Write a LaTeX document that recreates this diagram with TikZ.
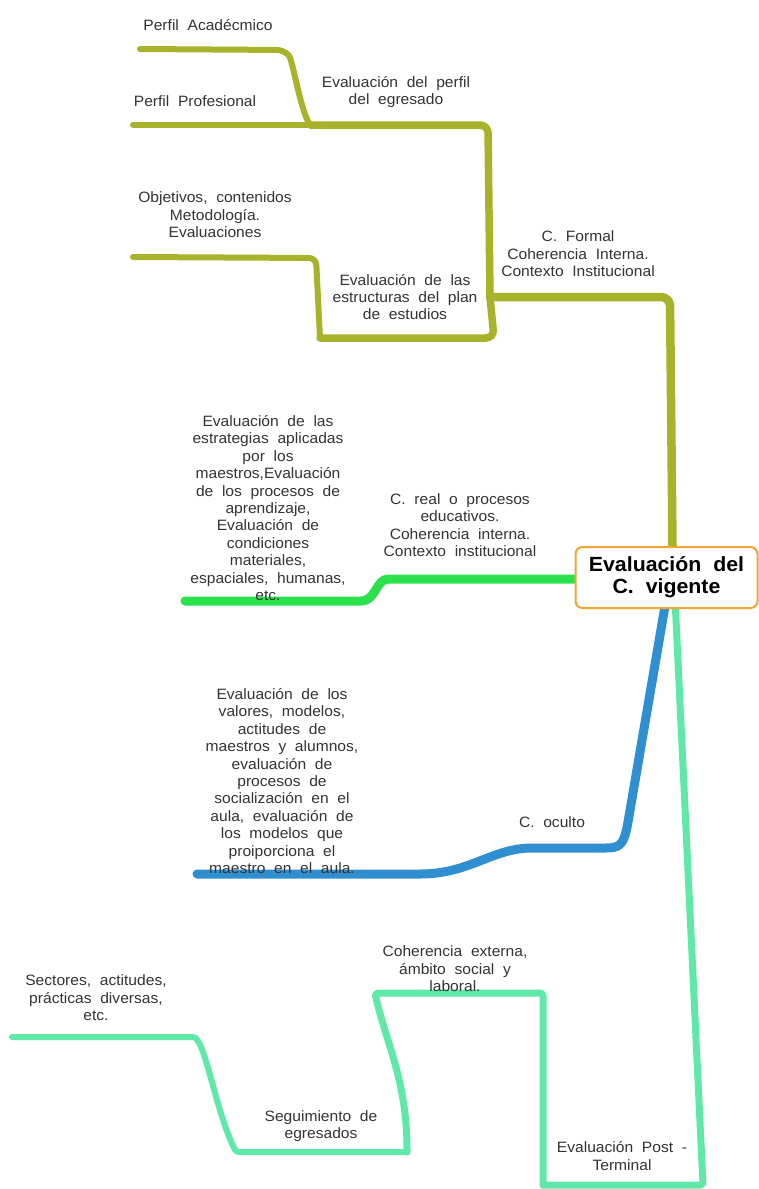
\documentclass[tikz,border=0pt]{standalone}
\usepackage{fontspec}
\setmainfont{Liberation Sans}[FakeStretch=1.04, WordSpace=2.0]
\usetikzlibrary{backgrounds}
\definecolor{cOlive}{HTML}{A8B22A}
\definecolor{cGreen}{HTML}{2CE24C}
\definecolor{cBlue}{HTML}{2F8FD0}
\definecolor{cTeal}{HTML}{5FE8A8}
\definecolor{cOrange}{HTML}{F3A532}
\definecolor{cText}{HTML}{333333}
\begin{document}
\begin{tikzpicture}[x=1pt,y=-1pt,
  lbl/.style={align=center, font=\fontsize{15}{17.4}\selectfont, text=cText, inner sep=0pt},
  branch/.style={line width=#1, line cap=round, line join=round},
  rootbox/.style={draw=cOrange, line width=2pt, rounded corners=7pt, fill=white,
    minimum width=182pt, minimum height=61pt, align=center,
    font=\bfseries\fontsize{20.5}{22}\selectfont}]
\useasboundingbox (0,0) rectangle (759,1189);

% central node
\node[rootbox] (root) at (666.5,577.5) {Evaluación del\\C. vigente};

% junction coordinates
\coordinate (fJ) at (490,297);
\coordinate (pJ) at (310,125);
\coordinate (eJ) at (320,338);
\coordinate (aEnd) at (140,49);
\coordinate (prEnd) at (133,125);
\coordinate (oEnd) at (133,257);
\coordinate (gEnd) at (185,601);
\coordinate (bEnd) at (197,874);
\coordinate (tJ) at (543,1185);
\coordinate (sJ) at (407,1152);
\coordinate (secEnd) at (12,1037);

\begin{scope}[on background layer]
% C. Formal (olive)
\draw[cOlive, branch=8.5pt, rounded corners=9pt] ([xshift=6pt]root.north) -- (670,297) -- (fJ);
\draw[cOlive, branch=7.5pt, rounded corners=8pt] (fJ) -- (488,125) -- (pJ);
\draw[cOlive, branch=7.5pt, rounded corners=8pt] (fJ) -- (494,338) -- (eJ);
\draw[cOlive, branch=6pt] (pJ) -- (prEnd);
\draw[cOlive, branch=6pt, rounded corners=7pt] (pJ) .. controls (300,110) and (293,60) .. (284,50) -- (aEnd);
\draw[cOlive, branch=6pt, rounded corners=7pt] (eJ) -- (316,258) -- (oEnd);
% C. real (green)
\draw[cGreen, branch=9pt] (root.west |- 0,579) -- (388,579) .. controls (376,579) and (376,601) .. (361,601) -- (gEnd);
% C. oculto (blue)
\draw[cBlue, branch=9pt] ([xshift=-2pt]root.south) -- (628,822) .. controls (624,845) and (620,848) .. (606,848) -- (532,848) .. controls (492,848) and (470,874) .. (420,874) -- (bEnd);
% Post-terminal (teal)
\draw[cTeal, branch=7pt, rounded corners=3pt] ([xshift=9pt]root.south) -- (703,1185) -- (tJ);
\draw[cTeal, branch=7pt, rounded corners=3pt] (tJ) -- (543,993) -- (375,993) .. controls (385,1040) and (407,1080) .. (407,1152) -- (sJ);
\draw[cTeal, branch=6pt, rounded corners=3pt] (sJ) -- (236,1152) .. controls (215,1110) and (205,1037) .. (190,1037) -- (secEnd);
\end{scope}

% labels
\node[lbl] (acad) at (208,25) {Perfil Acadécmico};
\node[lbl] (prof) at (195,101) {Perfil Profesional};
\node[lbl] (perf) at (396,92) {Evaluación del perfil\\del egresado};
\node[lbl] (obj) at (215,215) {Objetivos, contenidos\\Metodología.\\Evaluaciones};
\node[lbl] (estr) at (405,297) {Evaluación de las\\estructuras del plan\\de estudios};
\node[lbl] (form) at (578,254) {C. Formal\\Coherencia Interna.\\Contexto Institucional};
\node[lbl] (real) at (460,525) {C. real o procesos\\educativos.\\Coherencia interna.\\Contexto institucional};
\node[lbl] (estrat) at (268,508) {Evaluación de las\\estrategias aplicadas\\por los\\maestros,Evaluación\\de los procesos de\\aprendizaje,\\Evaluación de\\condiciones\\materiales,\\espaciales, humanas,\\etc.};
\node[lbl] (ocul) at (552,822) {C. oculto};
\node[lbl] (val) at (282,781) {Evaluación de los\\valores, modelos,\\actitudes de\\maestros y alumnos,\\evaluación de\\procesos de\\socialización en el\\aula, evaluación de\\los modelos que\\proiporciona el\\maestro en el aula.};
\node[lbl] (cext) at (455,969) {Coherencia externa,\\ámbito social y\\laboral.};
\node[lbl] (seg) at (321,1126) {Seguimiento de\\egresados};
\node[lbl] (post) at (622,1156) {Evaluación Post -\\Terminal};
\node[lbl] (sect) at (96,998) {Sectores, actitudes,\\prácticas diversas,\\etc.};
\end{tikzpicture}
\end{document}
